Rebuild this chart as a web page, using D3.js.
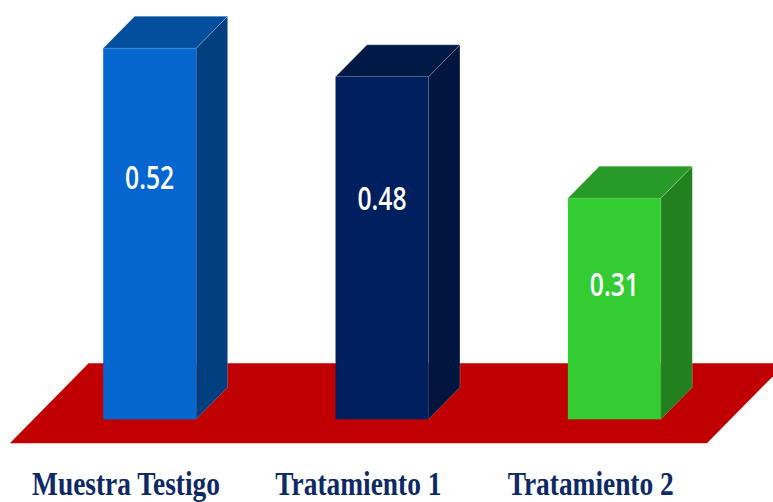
<!DOCTYPE html>
<html>
<head>
<meta charset="utf-8">
<script src="https://cdn.jsdelivr.net/npm/d3@7"></script>
<style>
  html, body { margin: 0; padding: 0; background: #fff; }
  svg { display: block; }
</style>
</head>
<body>
<svg id="chart" width="773" height="502"></svg>
<script>
// Chart data
const categories = ["Muestra Testigo", "Tratamiento 1", "Tratamiento 2"];
const values = [0.52, 0.48, 0.31];
const valueLabels = ["0.52", "0.48", "0.31"];
const frontColors = ["#0566cf", "#001f5e", "#33cc33"];
const topColors   = ["#034f9e", "#001a47", "#279a27"];
const sideColors  = ["#023f80", "#00163e", "#22801f"];

const svg = d3.select("#chart");
const W = 773, H = 502;

// Oblique projection of the depth axis (45°)
const depth = { dx: 31.5, dy: 32 };
const floorFront = 24;  // floor edge in front of the bar base
const floorBack = 24;   // floor edge behind the bar back

const x = d3.scaleBand()
  .domain(categories)
  .range([33.5, 730.5])
  .paddingInner(0.6)
  .paddingOuter(0.3);

const y = d3.scaleLinear()
  .domain([0, 0.52])
  .range([419.3, 48.3]);

const base = y(0);
const k = floorFront / depth.dy; // depth ratio to reach the floor front

// Red floor plane
const [r0, r1] = x.range();
const fx = -depth.dx * k, fy = depth.dy * k;
const totalDepth = (floorFront + depth.dy + floorBack) / depth.dy;
const floorPts = [
  [r0 + fx, base + fy],
  [r1 + fx, base + fy],
  [r1 + fx + depth.dx * totalDepth, base + fy - depth.dy * totalDepth],
  [r0 + fx + depth.dx * totalDepth, base + fy - depth.dy * totalDepth]
];
svg.append("polygon")
  .attr("points", floorPts.map(p => p.join(",")).join(" "))
  .attr("fill", "#c00000");

// 3D bars
const bars = svg.selectAll("g.bar")
  .data(categories.map((c, i) => ({ c, v: values[i], i })))
  .join("g")
  .attr("class", "bar");

bars.append("polygon") // side face
  .attr("points", d => {
    const x1 = x(d.c) + x.bandwidth(), yt = y(d.v);
    return [[x1, yt], [x1 + depth.dx, yt - depth.dy], [x1 + depth.dx, base - depth.dy], [x1, base]]
      .map(p => p.join(",")).join(" ");
  })
  .attr("fill", d => sideColors[d.i])
  .attr("stroke", "rgba(255,255,255,0.35)")
  .attr("stroke-width", 0.6);

bars.append("polygon") // top face
  .attr("points", d => {
    const x0 = x(d.c), x1 = x0 + x.bandwidth(), yt = y(d.v);
    return [[x0, yt], [x0 + depth.dx, yt - depth.dy], [x1 + depth.dx, yt - depth.dy], [x1, yt]]
      .map(p => p.join(",")).join(" ");
  })
  .attr("fill", d => topColors[d.i])
  .attr("stroke", "rgba(255,255,255,0.35)")
  .attr("stroke-width", 0.6);

bars.append("rect") // front face
  .attr("x", d => x(d.c))
  .attr("y", d => y(d.v))
  .attr("width", x.bandwidth())
  .attr("height", d => base - y(d.v))
  .attr("fill", d => frontColors[d.i]);

// Value labels inside the bars
bars.append("text")
  .attr("transform", d => {
    const cx = x(d.c) + x.bandwidth() / 2;
    const cy = d3.interpolateNumber(y(d.v), base + 85)(0.283) + 11.7;
    return `translate(${cx},${cy}) scale(0.76,1)`;
  })
  .attr("text-anchor", "middle")
  .attr("font-family", "'Open Sans', 'Noto Sans', sans-serif")
  .attr("font-weight", 600)
  .attr("font-size", 32.5)
  .attr("fill", "#ffffff")
  .text(d => valueLabels[d.i]);

// Category labels, centred on the front edge of the floor
svg.selectAll("text.cat")
  .data(categories)
  .join("text")
  .attr("class", "cat")
  .attr("transform", c => `translate(${x(c) + x.bandwidth() / 2 + fx},495) scale(0.83,1)`)
  .attr("text-anchor", "middle")
  .attr("font-family", "'Liberation Serif', 'Times New Roman', serif")
  .attr("font-weight", "bold")
  .attr("font-size", 33)
  .attr("fill", "#0d2a66")
  .text(c => c);
</script>
</body>
</html>
